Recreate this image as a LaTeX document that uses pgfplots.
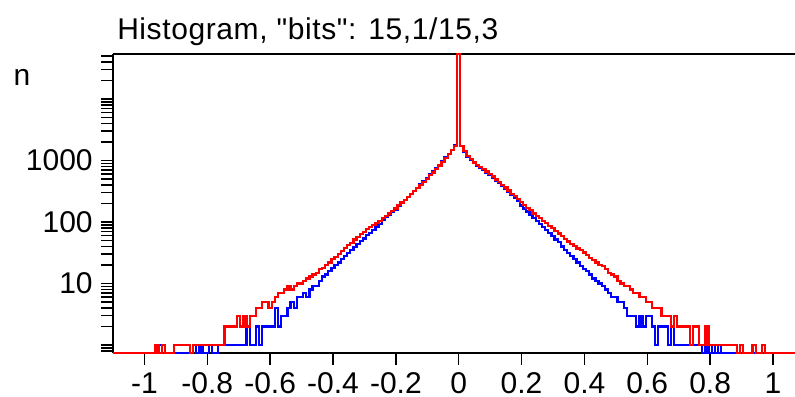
\documentclass[border=0pt]{standalone}
\usepackage{fontspec}
\setmainfont{Liberation Sans}[Ligatures=TeXOff]
\usepackage{pgfplots}
\usepackage{pgfplotstable}
\pgfplotsset{compat=1.18}
\pgfplotstableread{
x r b
-1.10 0.74 0.74
-1.09 0.74 0.74
-1.08 0.74 0.74
-1.07 0.74 0.74
-1.06 0.74 0.74
-1.05 0.74 0.74
-1.04 0.74 0.74
-1.03 0.74 0.74
-1.02 0.74 0.74
-1.01 0.74 0.74
-1.00 0.74 0.74
-0.99 0.74 0.74
-0.98 0.74 0.74
-0.97 0.74 0.74
-0.96 1 0.74
-0.95 0.74 1
-0.94 1 0.74
-0.93 0.74 0.74
-0.92 0.74 0.74
-0.91 0.74 0.74
-0.90 1 0.74
-0.89 1 0.74
-0.88 1 0.74
-0.87 1 0.74
-0.86 1 0.74
-0.85 0.74 0.74
-0.84 1 1
-0.83 1 0.74
-0.82 1 1
-0.81 1 0.74
-0.80 1 0.74
-0.79 1 1
-0.78 1 0.74
-0.77 1 0.74
-0.76 1 1
-0.75 1 1
-0.74 2 1
-0.73 2 1
-0.72 2 1
-0.71 2 1
-0.70 3 1
-0.69 2 1
-0.68 3 1
-0.67 2 2
-0.66 3 1
-0.65 3 1
-0.64 4 2
-0.63 4 1
-0.62 5 2
-0.61 5 2
-0.60 4 2
-0.59 5 2
-0.58 6 4
-0.57 7 2
-0.56 7 3
-0.55 8 3
-0.54 9 4
-0.53 8 5
-0.52 9 4
-0.51 10 6
-0.50 10 6
-0.49 11 7
-0.48 12 6
-0.47 13 8
-0.46 14 9
-0.45 15 9
-0.44 17 11
-0.43 18 13
-0.42 20 14
-0.41 22 16
-0.40 25 18
-0.39 27 20
-0.38 30 22
-0.37 34 25
-0.36 38 28
-0.35 42 31
-0.34 46 35
-0.33 52 39
-0.32 57 44
-0.31 63 49
-0.30 69 54
-0.29 76 61
-0.28 82 67
-0.27 90 75
-0.26 96 83
-0.25 105 92
-0.24 115 107
-0.23 126 119
-0.22 138 131
-0.21 152 145
-0.20 166 160
-0.19 188 182
-0.18 208 205
-0.17 230 228
-0.16 255 255
-0.15 282 285
-0.14 318 322
-0.13 355 362
-0.12 398 408
-0.11 450 462
-0.10 500 515
-0.09 575 590
-0.08 640 660
-0.07 725 745
-0.06 830 850
-0.05 955 975
-0.04 1100 1120
-0.03 1260 1280
-0.02 1480 1500
-0.01 1740 1760
0.00 54000 54000
0.01 1740 1720
0.02 1410 1390
0.03 1175 1150
0.04 1050 1020
0.05 930 905
0.06 850 825
0.07 775 750
0.08 720 695
0.09 660 635
0.10 600 575
0.11 550 525
0.12 490 470
0.13 447 428
0.14 400 385
0.15 363 347
0.16 324 308
0.17 288 275
0.18 263 245
0.19 234 218
0.20 209 186
0.21 190 166
0.22 170 148
0.23 155 132
0.24 138 117
0.25 126 105
0.26 115 93
0.27 105 83
0.28 95 74
0.29 87 66
0.30 79 59
0.31 72 52
0.32 65 47
0.33 59 40
0.34 53 35
0.35 48 31
0.36 44 28
0.37 41 25
0.38 37 22
0.39 35 19
0.40 32 17
0.41 29 16
0.42 26 14
0.43 24 12
0.44 22 11
0.45 20 10
0.46 19 9
0.47 17 8
0.48 15 7
0.49 14 6
0.50 13 6
0.51 11 5
0.52 10 5
0.53 9 4
0.54 9 3
0.55 8 3
0.56 7 3
0.57 7 2
0.58 6 3
0.59 6 2
0.60 5 3
0.61 5 3
0.62 4 2
0.63 4 1
0.64 4 2
0.65 3 2
0.66 3 2
0.67 3 1
0.68 2 2
0.69 3 1
0.70 2 1
0.71 2 1
0.72 2 1
0.73 2 1
0.74 1 1
0.75 2 1
0.76 2 1
0.77 1 1
0.78 1 0.74
0.79 2 1
0.80 1 0.74
0.81 1 1
0.82 1 0.74
0.83 1 1
0.84 1 0.74
0.85 1 0.74
0.86 1 0.74
0.87 1 0.74
0.88 1 0.74
0.89 0.74 0.74
0.90 1 0.74
0.91 0.74 0.74
0.92 0.74 0.74
0.93 0.74 0.74
0.94 1 0.74
0.95 0.74 0.74
0.96 0.74 0.74
0.97 1 0.74
0.98 0.74 0.74
0.99 0.74 0.74
1.00 0.74 0.74
1.01 0.74 0.74
1.02 0.74 0.74
1.03 0.74 0.74
1.04 0.74 0.74
1.05 0.74 0.74
1.06 0.74 0.74
1.07 0.74 0.74
}\hist
\begin{document}
\begin{tikzpicture}
\useasboundingbox (0,0) rectangle (318pt,158.4pt);
\begin{axis}[
  at={(45.2pt,17.2pt)}, anchor=south west,
  scale only axis, width=272.8pt, height=119.6pt,
  ymode=log,
  xmin=-1.10, xmax=1.07, ymin=0.74, ymax=54000,
  axis x line*=box, axis y line*=left,
  xtick pos=left,
  xtick={-1,-0.8,-0.6,-0.4,-0.2,0,0.2,0.4,0.6,0.8,1},
  xticklabels={-1,-0.8,-0.6,-0.4,-0.2,0,0.2,0.4,0.6,0.8,1},
  xticklabel style={inner sep=0pt, yshift=-3pt},
  ytick={1,10,100,1000,10000},
  yticklabels={,10,100,1000,},
  minor ytick={0.8,0.9,2,3,4,5,6,7,8,9,20,30,40,50,60,70,80,90,200,300,400,500,600,700,800,900,2000,3000,4000,5000,6000,7000,8000,9000,20000,30000,40000,50000},
  tick align=outside,
  major tick length=4.6pt, minor tick length=4.6pt,
  axis line style={line width=0.7pt},
  every tick/.style={black, line width=0.6pt},
  tick label style={font=\fontsize{12}{14}\selectfont},
  clip=false,
]
\addplot[blue, line width=0.9pt, const plot mark mid] table[x=x,y=b]{\hist};
\addplot[red, line width=0.9pt, const plot mark mid] table[x=x,y=r]{\hist};
\end{axis}
\node[anchor=base west, inner sep=0pt, font=\fontsize{12}{14}\selectfont\addfontfeature{LetterSpace=2}] at (46.7pt,142.4pt) {Histogram, "bits": 15,1/15,3};
\node[anchor=base west, inner sep=0pt, font=\fontsize{12}{14}\selectfont] at (5.2pt,124.4pt) {n};
\end{tikzpicture}
\end{document}
